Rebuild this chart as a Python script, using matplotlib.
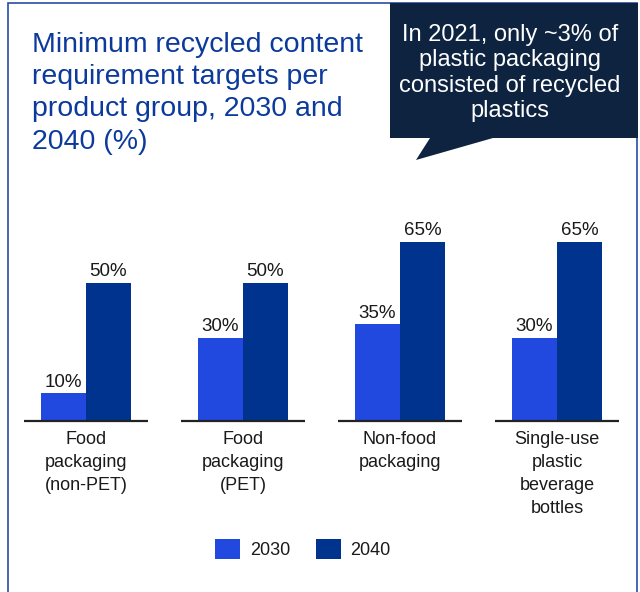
import numpy as np
import matplotlib
matplotlib.use("Agg")
import matplotlib.pyplot as plt
import matplotlib.patches as patches

# ---- data ----
categories = ["Food\npackaging\n(non-PET)", "Food\npackaging\n(PET)",
              "Non-food\npackaging", "Single-use\nplastic\nbeverage\nbottles"]
years = ["2030", "2040"]
values_2030 = [10, 30, 35, 30]
values_2040 = [50, 50, 65, 65]

title = "Minimum recycled content\nrequirement targets per\nproduct group, 2030 and\n2040 (%)"
callout = "In 2021, only ~3% of\nplastic packaging\nconsisted of recycled\nplastics"

# ---- colours ----
c2030 = "#2149E0"
c2040 = "#00338D"
title_col = "#0B3A9C"
box_col = "#0E233F"
text_col = "#1A1A1A"
frame_col = "#2A4DA6"

plt.rcParams['font.family'] = ['Liberation Sans', 'DejaVu Sans']

W, H = 640, 592
fig = plt.figure(figsize=(W / 100, H / 100), dpi=100)

def fx(px):
    return px / W

def fy(py):
    return 1 - py / H

# outer frame (bottom edge falls outside the picture)
fig.patches.append(patches.Rectangle((fx(7.5), fy(620)), fx(629), fy(2.5) - fy(620),
                                     transform=fig.transFigure, fill=False,
                                     edgecolor=frame_col, linewidth=1.2))

# title
fig.text(fx(32), fy(32), title, color=title_col, fontsize=20.5,
         ha='left', va='top', linespacing=1.31)

# speech bubble
bubble = [(390, 3), (638, 3), (638, 138), (493, 138), (416, 160), (430, 138), (390, 138)]
fig.patches.append(patches.Polygon([(fx(a), fy(b)) for a, b in bubble], closed=True,
                                   transform=fig.transFigure, facecolor=box_col,
                                   edgecolor='none'))
fig.text(fx(510), fy(73), callout, color='white', fontsize=17,
         ha='center', va='center', linespacing=1.185)

# bar axes
ax = fig.add_axes([fx(7.5), fy(421), fx(628), fy(227.8) - fy(421)])
x = np.arange(len(categories))
bw = 45 / 157
b1 = ax.bar(x - bw / 2, values_2030, bw, color=c2030, label=years[0])
b2 = ax.bar(x + bw / 2, values_2040, bw, color=c2040, label=years[1])

for bars, vals in [(b1, values_2030), (b2, values_2040)]:
    for rect, v in zip(bars, vals):
        ax.annotate(f"{v}%", (rect.get_x() + rect.get_width() / 2, v),
                    xytext=(0, 2), textcoords='offset points',
                    ha='center', va='bottom', fontsize=13.5, color=text_col)

ax.hlines(np.zeros(len(x)), x - 0.395, x + 0.395, color="#222222", linewidth=1.6, clip_on=False)

ax.set_xlim(-0.5, 3.5)
ax.set_ylim(0, 70)
ax.set_xticks(x)
ax.set_xticklabels(categories, fontsize=13, color=text_col, linespacing=1.48)
ax.tick_params(axis='x', length=0, pad=7)
ax.set_yticks([])
for s in ax.spines.values():
    s.set_visible(False)
ax.patch.set_alpha(0)

fig.legend(handles=[b1, b2], labels=years, loc='center', ncol=2,
           bbox_to_anchor=(fx(303), fy(549)), frameon=False, fontsize=13,
           handlelength=1.38, handleheight=1.38, handletextpad=0.55,
           columnspacing=1.4, labelcolor=text_col)

fig.savefig("out.png", dpi=100)
